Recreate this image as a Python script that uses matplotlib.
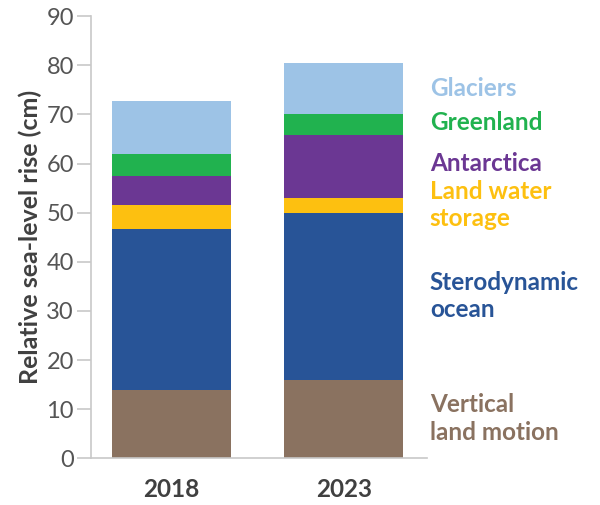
import matplotlib
matplotlib.use("Agg")
import matplotlib.pyplot as plt
import numpy as np

plt.rcParams['font.family'] = ['Lato', 'DejaVu Sans']

years = ["2018", "2023"]
components = ["Vertical\nland motion", "Sterodynamic\nocean", "Land water\nstorage",
              "Antarctica", "Greenland", "Glaciers"]
# contribution of each component (cm), bottom to top
vlm = [13.9, 15.9]
stero = [32.7, 34.0]
land_water = [4.9, 3.0]
antarctica = [5.9, 13.0]
greenland = [4.5, 4.1]
glaciers = [10.9, 10.5]

colors = ["#8A7260", "#285497", "#FDC010", "#6B3793", "#21B24F", "#9DC3E6"]
label_y = [8.1, 33.0, 51.5, 60.0, 68.3, 75.3]

fig = plt.figure(figsize=(6, 5.05), dpi=100)
ax = fig.add_axes([0.151, 0.0925, 0.561, 0.8755])

x = np.arange(len(years))
bottom = np.zeros(len(years))
for vals, c in zip([vlm, stero, land_water, antarctica, greenland, glaciers], colors):
    ax.bar(x, vals, bottom=bottom, width=0.692, color=c, linewidth=0)
    bottom += np.array(vals)

for name, c, yy in zip(components, colors, label_y):
    ax.text(1.50, yy, name, color=c, fontsize=17.5, fontweight='bold',
            ha='left', va='center', linespacing=1.22, clip_on=False)

ax.set_xlim(-0.471, 1.485)
ax.set_ylim(0, 90)
ax.set_yticks(range(0, 91, 10))
ax.set_xticks(x)
ax.set_xticklabels(years, fontsize=17.5, fontweight='bold', color='#404040')
ax.tick_params(axis='x', length=0, pad=14)
ax.tick_params(axis='y', length=10, width=1.2, color='#c8c8c8', labelsize=17,
               labelcolor='#555555', pad=2)
ax.set_ylabel("Relative sea-level rise (cm)", fontsize=18, fontweight='bold',
              color='#404040', labelpad=3)

for s in ['top', 'right']:
    ax.spines[s].set_visible(False)
for s in ['left', 'bottom']:
    ax.spines[s].set_color('#c8c8c8')
    ax.spines[s].set_linewidth(1.2)

fig.savefig("out.png", dpi=100)
